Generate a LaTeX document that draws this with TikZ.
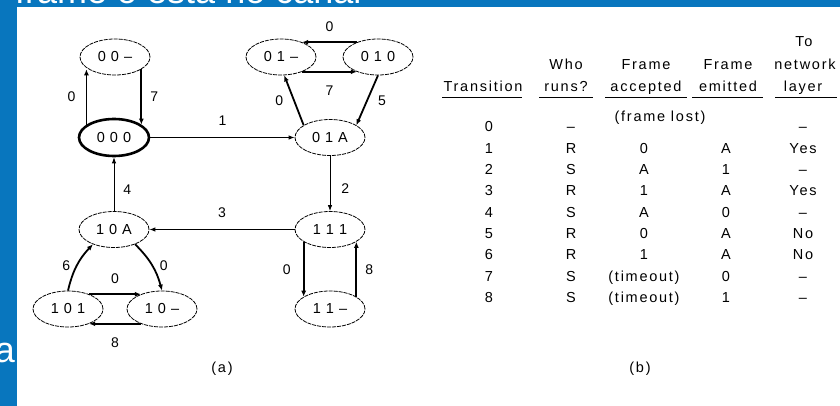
\documentclass[tikz,border=0pt]{standalone}
\usepackage{fontspec}
\setmainfont{Liberation Sans}
\newfontfamily\slidefont{Liberation Sans}
\newfontfamily\tabfont[LetterSpace=12]{Liberation Sans}
\newfontfamily\statefont{Liberation Sans}
\usetikzlibrary{arrows.meta}
\usetikzlibrary{shapes,shapes.geometric}
\tikzset{>=stealth}
\definecolor{slideblue}{RGB}{8,118,190}

% spaced-out state triple
\newcommand{\stlab}[3]{#1\kern5pt#2\kern5pt#3}

\begin{document}
\begin{tikzpicture}[x=1pt,y=-1pt,
    stnode/.style={ellipse, draw, line width=0.8pt, dash pattern=on 4pt off 1pt,
      minimum width=70pt, minimum height=36pt, inner sep=0pt,
      font=\statefont\fontsize{14.5}{14.5}\selectfont},
    initnode/.style={stnode, solid, line width=2.6pt, minimum height=37pt},
    tr/.style={-{Latex[length=6pt,width=4.5pt]}, line width=0.9pt},
    ls/.style={-{Latex[length=6pt,width=5pt]}, line width=1.8pt},
    lbl/.style={font=\statefont\fontsize{14}{14}\selectfont, inner sep=2pt},
    hd/.style={font=\tabfont\fontsize{14.5}{14.5}\selectfont, anchor=base, inner sep=0pt},
    rule/.style={line width=1pt}]
  \useasboundingbox (0,0) rectangle (840,406);
  \fill[slideblue] (0,0) rectangle (840,406);
  \node[white, inner sep=0pt, anchor=base west, font=\slidefont\fontsize{36}{36}\selectfont] (title) at (15,4) {frame o está no canal};
  \node[white, inner sep=0pt, anchor=base east, font=\slidefont\fontsize{36}{36}\selectfont] (cont) at (15,362) {la};
  \fill[white] (17,7) rectangle (840,406);

  % (a) states
  \node[stnode] (s00) at (115,57) {\stlab00\textendash};
  \node[initnode] (s000) at (114,137.5) {\stlab000};
  \node[stnode] (s01) at (281,57) {\stlab01\textendash};
  \node[stnode] (s010) at (378,57) {\stlab010};
  \node[stnode] (s01A) at (330,137.5) {\stlab01A};
  \node[stnode] (s111) at (330,229.5) {\stlab111};
  \node[stnode] (s11) at (330,309) {\stlab11\textendash};
  \node[stnode] (s10A) at (114,229.5) {\stlab10A};
  \node[stnode] (s101) at (68,309) {\stlab101};
  \node[stnode] (s10) at (162,309) {\stlab10\textendash};

  % normal transitions
  \draw[tr] (s000) -- (s01A) node[midway, above=10pt, lbl] {1};
  \draw[tr] (s01A) -- (s111) node[pos=0.6, right=9pt, lbl] {2};
  \draw[tr] (s111) -- (s10A) node[midway, above=9pt, lbl] {3};
  \draw[tr] (s10A) -- (s000) node[pos=0.4, right=7pt, lbl] {4};

  % losses, timeouts, duplicates
  \draw[ls] (s000.155) -- (s000.155 |- s00.-155) node[midway, left=8pt, lbl] {0};
  \draw[ls] (s00.-25) -- (s00.-25 |- s000.25) node[midway, right=6pt, lbl] {7};
  \draw[ls] (s010.145) -- (s010.145 -| s01.35) node[midway, above=8pt, lbl] {0};
  \draw[ls] (s01.-35) -- (s01.-35 -| s010.-145) node[midway, below=11pt, lbl] {7};
  \draw[ls] (s01A.155) -- (s01.-80) node[midway, left=8pt, lbl] {0};
  \draw[ls] (s010.-90) -- (s01A.25) node[midway, right=8pt, lbl] {5};
  \draw[ls] (s111.-155) -- (s111.-155 |- s11.155) node[midway, left=10pt, lbl] {0};
  \draw[ls] (s11.25) -- (s11.25 |- s111.-25) node[midway, right=6pt, lbl] {8};
  \draw[ls] (s10A.-35) to[bend left=15] node[right=5pt, lbl] {0} (s10.north);
  \draw[ls] (s101.north) to[bend left=15] node[left=4pt, lbl] {6} (s10A.-145);
  \draw[ls] (s101.35) -- (s101.35 -| s10.145) node[midway, above=8pt, lbl] {0};
  \draw[ls] (s10.-145) -- (s10.-145 -| s101.-35) node[midway, below=11pt, lbl] {8};

  \node[hd] (capA) at (222,372) {(a)};

  % (b) table
  \node[hd] (hTo) at (804,47) {To};
  \node[hd] (hWho) at (566,70) {Who};
  \node[hd] (hFa) at (646,70) {Frame};
  \node[hd] (hFe) at (728,70) {Frame};
  \node[hd] (hNet) at (805,70) {network};
  \node[hd] (hTr) at (483,92) {Transition};
  \node[hd] (hRuns) at (566,92) {runs?};
  \node[hd] (hAcc) at (646,92) {accepted};
  \node[hd] (hEmi) at (728,92) {emitted};
  \node[hd] (hLay) at (803,92) {layer};
  \foreach \a/\b in {442/522, 539/593, 605/687, 692/763, 775/837}
    \draw[rule] (\a,98) -- (\b,98);

  \node[hd] (lost) at (660,122) {(frame lost)};
  \node[hd] (r0-t) at (489,132) {0};
  \node[hd] (r0-w) at (571,132) {\textendash};
  \node[hd] (r0-n) at (803,132) {\textendash};
  \foreach \t/\w/\a/\e/\n [count=\i] in {1/R/0/A/Yes, 2/S/A/1/\textendash, 3/R/1/A/Yes, 4/S/A/0/\textendash,
      5/R/0/A/No, 6/R/1/A/No, 7/S/(timeout)/0/\textendash, 8/S/(timeout)/1/\textendash} {
    \node[hd] (r\i-t) at (489,132+21.3*\i) {\t};
    \node[hd] (r\i-w) at (571,132+21.3*\i) {\w};
    \node[hd] (r\i-a) at (644,132+21.3*\i) {\a};
    \node[hd] (r\i-e) at (726,132+21.3*\i) {\e};
    \node[hd] (r\i-n) at (803,132+21.3*\i) {\n};
  }

  \node[hd] (capB) at (640,372) {(b)};
\end{tikzpicture}
\end{document}
